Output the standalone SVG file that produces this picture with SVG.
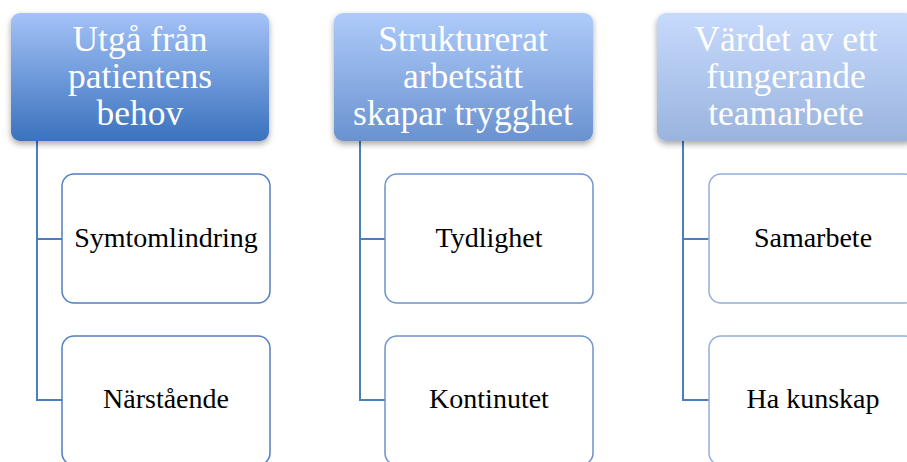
<svg xmlns="http://www.w3.org/2000/svg" width="907" height="462" viewBox="0 0 907 462">
<defs>
<linearGradient id="g1" x1="0" y1="0" x2="0" y2="1"><stop offset="0" stop-color="#a4c2f7"/><stop offset="1" stop-color="#3a72bd"/></linearGradient>
<linearGradient id="g2" x1="0" y1="0" x2="0" y2="1"><stop offset="0" stop-color="#aecbfa"/><stop offset="1" stop-color="#6a92cf"/></linearGradient>
<linearGradient id="g3" x1="0" y1="0" x2="0" y2="1"><stop offset="0" stop-color="#c6dafc"/><stop offset="1" stop-color="#9bb4de"/></linearGradient>
<filter id="sh" x="-10%" y="-10%" width="120%" height="130%"><feDropShadow dx="0" dy="3" stdDeviation="3" flood-color="#000" flood-opacity="0.35"/></filter>
</defs>
<style>
.hd{font-family:"Liberation Serif","DejaVu Serif",serif;font-size:35.5px;fill:#fff;text-anchor:middle}
.ch{font-family:"Liberation Serif","DejaVu Serif",serif;font-size:28px;fill:#000;text-anchor:middle}
.c1{fill:#fff;stroke:#4f7fc0;stroke-width:1.5}
.c2{fill:#fff;stroke:#6c93cb;stroke-width:1.5}
.c3{fill:#fff;stroke:#93afdc;stroke-width:1.5}
.ln{fill:none;stroke:#4a7ebd;stroke-width:2}
</style>
<g id="connectors">
<path class="ln" d="M37 141 V400 H62 M37 239 H62"/>
<path class="ln" d="M360 141 V400 H385 M360 239 H385"/>
<path class="ln" d="M683 141 V400 H709 M683 239 H709"/>
</g>
<g id="h1"><rect x="11" y="13" width="258" height="128" rx="9" fill="url(#g1)" filter="url(#sh)"/>
<text class="hd" x="140" y="51">Utgå från</text><text class="hd" x="140" y="88">patientens</text><text class="hd" x="140" y="125">behov</text></g>
<g id="h2"><rect x="334" y="13" width="259" height="128" rx="9" fill="url(#g2)" filter="url(#sh)"/>
<text class="hd" x="463" y="51">Strukturerat</text><text class="hd" x="463" y="88">arbetsätt</text><text class="hd" x="463" y="125">skapar trygghet</text></g>
<g id="h3"><rect x="657" y="13" width="258" height="128" rx="9" fill="url(#g3)" filter="url(#sh)"/>
<text class="hd" x="786" y="51">Värdet av ett</text><text class="hd" x="786" y="88">fungerande</text><text class="hd" x="786" y="125">teamarbete</text></g>
<g id="n1a"><rect class="c1" x="62" y="174" width="208" height="129" rx="12"/><text class="ch" x="166" y="247">Symtomlindring</text></g>
<g id="n1b"><rect class="c1" x="62" y="336" width="208" height="129" rx="12"/><text class="ch" x="166" y="408">Närstående</text></g>
<g id="n2a"><rect class="c2" x="385" y="174" width="208" height="129" rx="12"/><text class="ch" x="489" y="247">Tydlighet</text></g>
<g id="n2b"><rect class="c2" x="385" y="336" width="208" height="129" rx="12"/><text class="ch" x="489" y="408">Kontinutet</text></g>
<g id="n3a"><rect class="c3" x="709" y="174" width="208" height="129" rx="12"/><text class="ch" x="813" y="247">Samarbete</text></g>
<g id="n3b"><rect class="c3" x="709" y="336" width="208" height="129" rx="12"/><text class="ch" x="813" y="408">Ha kunskap</text></g>
</svg>
